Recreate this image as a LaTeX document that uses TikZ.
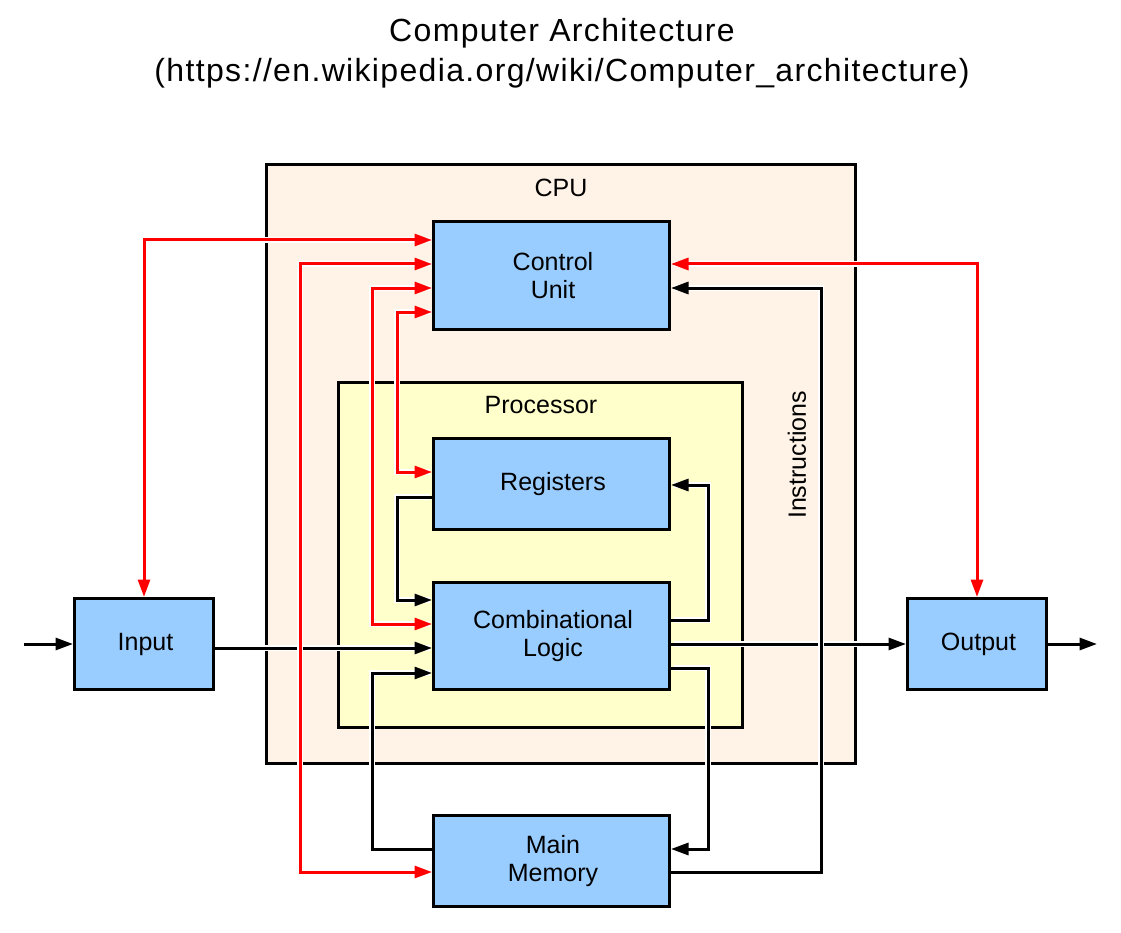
\documentclass[tikz,border=0pt]{standalone}
\usepackage{fontspec}
\setmainfont{Liberation Sans}
\newfontfamily\titlefont[LetterSpace=4.2]{Liberation Sans}
\usetikzlibrary{arrows.meta}
\definecolor{cpufill}{RGB}{255,242,230}
\definecolor{procfill}{RGB}{255,255,204}
\definecolor{boxfill}{RGB}{153,204,255}
\begin{document}
\begin{tikzpicture}[x=1pt,y=-1pt,
  unit/.style={draw=black, line width=3pt, fill=boxfill, inner sep=0pt,
    minimum width=236pt, align=center, font=\fontsize{25}{28.5}\selectfont},
  frame/.style={draw=black, line width=3pt, inner sep=0pt},
  conn/.style={line width=3pt, line join=miter,
    preaction={draw=white, line width=5.5pt, -, shorten <=2.5pt, shorten >=2.5pt}},
  blk/.style={conn, draw=black, -{Triangle[length=17.5pt,width=12pt]}},
  rd/.style={conn, draw=red, {Triangle[length=17.5pt,width=12pt]}-{Triangle[length=17.5pt,width=12pt]}},
  lbl/.style={font=\fontsize{25}{28}\selectfont, inner sep=0pt}]
\useasboundingbox (0,0) rectangle (1121,933);
% title
\node[align=center, font=\titlefont\fontsize{32}{40}\selectfont, inner sep=0pt] (title) at (562,53)
  {Computer Architecture\\(https://en.wikipedia.org/wiki/Computer\_architecture)};
% frames
\node[frame, fill=cpufill, minimum width=589pt, minimum height=598pt] (cpu) at (560.5,464) {};
\node[lbl] (cpulbl) at (561,188) {CPU};
\node[frame, fill=procfill, minimum width=404pt, minimum height=345pt] (proc) at (540,554.5) {};
\node[lbl] (proclbl) at (541,405) {Processor};
\node[lbl, rotate=90] (instr) at (797,455) {Instructions};
% units
\node[unit, minimum height=108pt, text depth=0pt] (cu) at (551.5,275.5) {\hspace*{3pt}Control\\\hspace*{3pt}Unit};
\node[unit, minimum height=91pt] (reg) at (551.5,484) {\hspace*{3pt}Registers};
\node[unit, minimum height=107pt] (cl) at (551.5,636) {\hspace*{3pt}Combinational\\\hspace*{3pt}Logic};
\node[unit, minimum height=91pt] (mm) at (551.5,861) {\hspace*{3pt}Main\\\hspace*{3pt}Memory};
\node[unit, minimum width=139pt, minimum height=91pt] (in) at (144,644) {\hspace*{3pt}Input};
\node[unit, minimum width=139pt, minimum height=91pt] (out) at (977,644) {\hspace*{3pt}Output};
\coordinate (src) at (24,644);
\coordinate (snk) at (1097,644);
% black connectors
\draw[blk] (src) -- (in.west);
\draw[blk] (out.east) -- (snk);
\draw[blk] (in.east |- 0,648) -- (cl.west |- 0,648);
\draw[blk] (cl.east |- 0,644) -- (out.west |- 0,644);
\draw[blk] (reg.west |- 0,497) -- (397,497) -- (397,600) -- (cl.west |- 0,600);
\draw[blk] (cl.east |- 0,620) -- (708,620) -- (708,485) -- (reg.east |- 0,485);
\draw[blk] (cl.east |- 0,668) -- (708,668) -- (708,849) -- (mm.east |- 0,849);
\draw[blk] (mm.west |- 0,849) -- (372,849) -- (372,673) -- (cl.west |- 0,673);
\draw[blk] (mm.east |- 0,872) -- (821,872) -- (821,288) -- (cu.east |- 0,288);
% red connectors
\draw[rd] (in.north) -- (144,240) -- (cu.west |- 0,240);
\draw[rd] (cu.west |- 0,264) -- (300,264) -- (300,872) -- (mm.west |- 0,872);
\draw[rd] (cu.west |- 0,288) -- (372,288) -- (372,624) -- (cl.west |- 0,624);
\draw[rd] (cu.west |- 0,312) -- (397,312) -- (397,472) -- (reg.west |- 0,472);
\draw[rd] (cu.east |- 0,264) -- (977,264) -- (out.north);
\end{tikzpicture}
\end{document}
